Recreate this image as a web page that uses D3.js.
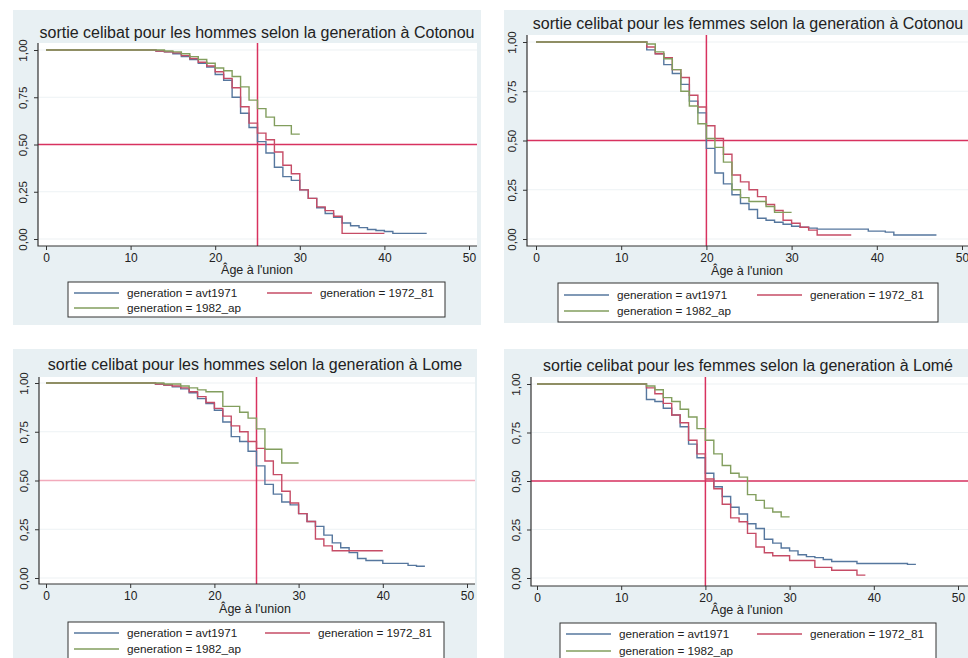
<!DOCTYPE html>
<html>
<head>
<meta charset="utf-8">
<script src="https://cdn.jsdelivr.net/npm/d3@7"></script>
<style>
  body { margin: 0; background: #fff; }
  svg { display: block; }
  text { font-family: Arial, "Liberation Sans", sans-serif; fill: #222; }
</style>
</head>
<body>
<script>
// survival curves: [age, proportion still single after that age]
const cotonouHommesAvt1971 = [[0,1],[13,0.995],[14,0.99],[15,0.98],[16,0.965],[17,0.95],[18,0.93],[19,0.91],[20,0.87],[21,0.84],[22,0.75],[23,0.665],[24,0.59],[25,0.515],[26,0.455],[27,0.38],[28,0.33],[29,0.31],[30,0.26],[31,0.215],[32,0.165],[33,0.135],[34,0.115],[35,0.085],[36,0.07],[37,0.06],[38,0.05],[39,0.045],[40,0.04],[41,0.03],[45,0.03]]
const cotonouHommes1972 = [[0,1],[13,0.995],[14,0.99],[15,0.985],[16,0.97],[17,0.955],[18,0.935],[19,0.915],[20,0.885],[21,0.85],[22,0.8],[23,0.7],[24,0.613],[25,0.56],[26,0.525],[27,0.46],[28,0.39],[29,0.345],[30,0.26],[31,0.215],[32,0.17],[33,0.15],[34,0.12],[35,0.03],[40,0.03]]
const cotonouHommes1982 = [[0,1],[14,0.995],[15,0.99],[16,0.98],[17,0.965],[18,0.95],[19,0.93],[20,0.905],[21,0.89],[22,0.86],[23,0.805],[24,0.735],[25,0.69],[26,0.645],[27,0.6],[29,0.555],[30,0.555]]

const cotonouFemmesAvt1971 = [[0,1],[13,0.96],[14,0.94],[15,0.885],[16,0.84],[17,0.785],[18,0.7],[19,0.64],[20,0.46],[21,0.335],[22,0.28],[23,0.225],[24,0.18],[25,0.15],[26,0.105],[27,0.095],[28,0.085],[29,0.075],[30,0.065],[31,0.06],[32,0.055],[33,0.05],[39,0.04],[41,0.035],[42,0.02],[47,0.02]]
const cotonouFemmes1972 = [[0,1],[13,0.975],[14,0.94],[15,0.92],[16,0.86],[17,0.82],[18,0.73],[19,0.67],[20,0.575],[21,0.51],[22,0.43],[23,0.325],[24,0.29],[25,0.25],[26,0.215],[27,0.175],[28,0.145],[29,0.095],[30,0.08],[31,0.06],[32,0.045],[33,0.02],[37,0.02]]
const cotonouFemmes1982 = [[0,1],[13,0.99],[14,0.95],[15,0.915],[16,0.86],[17,0.75],[18,0.675],[19,0.585],[20,0.51],[21,0.465],[22,0.39],[23,0.25],[24,0.21],[25,0.19],[27,0.165],[28,0.135],[30,0.135]]

const lomeHommesAvt1971 = [[0,1],[13,0.995],[14,0.99],[15,0.98],[16,0.97],[17,0.95],[18,0.92],[19,0.895],[20,0.86],[21,0.8],[22,0.725],[23,0.7],[24,0.65],[25,0.575],[26,0.48],[27,0.43],[28,0.39],[29,0.375],[30,0.33],[31,0.29],[32,0.265],[33,0.22],[34,0.18],[35,0.155],[36,0.13],[37,0.1],[38,0.09],[40,0.075],[43,0.065],[44,0.06],[45,0.06]]
const lomeHommes1972 = [[0,1],[13,0.995],[14,0.99],[15,0.985],[16,0.975],[17,0.955],[18,0.93],[19,0.9],[20,0.87],[21,0.83],[22,0.78],[23,0.75],[24,0.7],[25,0.665],[26,0.6],[27,0.53],[28,0.445],[29,0.385],[30,0.33],[31,0.29],[32,0.2],[33,0.165],[34,0.14],[40,0.14]]
const lomeHommes1982 = [[0,1],[14,0.995],[16,0.985],[17,0.975],[18,0.965],[19,0.955],[21,0.88],[23,0.85],[24,0.82],[25,0.765],[26,0.66],[28,0.59],[30,0.59]]

const lomeFemmesAvt1971 = [[0,1],[13,0.92],[14,0.91],[15,0.875],[16,0.84],[17,0.78],[18,0.69],[19,0.62],[20,0.54],[21,0.47],[22,0.42],[23,0.365],[24,0.33],[25,0.28],[26,0.255],[27,0.2],[28,0.18],[29,0.155],[30,0.14],[31,0.12],[32,0.11],[33,0.105],[34,0.095],[35,0.085],[38,0.075],[44,0.07],[45,0.07]]
const lomeFemmes1972 = [[0,1],[13,0.98],[14,0.95],[15,0.9],[16,0.84],[17,0.8],[18,0.71],[19,0.64],[20,0.51],[21,0.46],[22,0.38],[23,0.31],[24,0.29],[25,0.23],[26,0.16],[27,0.13],[28,0.115],[30,0.09],[33,0.055],[35,0.04],[38,0.015],[39,0.015]]
const lomeFemmes1982 = [[0,1],[13,0.99],[14,0.97],[15,0.93],[16,0.91],[17,0.87],[18,0.83],[19,0.77],[20,0.71],[21,0.64],[22,0.58],[23,0.54],[24,0.52],[25,0.43],[26,0.4],[27,0.36],[28,0.34],[29,0.315],[30,0.315]]

const titles = [
  'sortie celibat pour les hommes selon la generation à Cotonou',
  'sortie celibat pour les femmes selon la generation à Cotonou',
  'sortie celibat pour les hommes selon la generation à Lome',
  'sortie celibat pour les femmes selon la generation à Lomé'
]
const legendLabels = ['generation = avt1971', 'generation = 1972_81', 'generation = 1982_ap']
const xTicks = [0, 10, 20, 30, 40, 50]
const yTicks = [0, 0.25, 0.5, 0.75, 1]
const xTitle = 'Âge à l\'union'
const medianLines = [25, 20, 25, 20]

const seriesColors = ['#56779e', '#c64c66', '#829e5e']
const refColor = '#d8325f'

// layout of each of the 4 stata graphs pasted in the page
const panels = [
  { data: [cotonouHommesAvt1971, cotonouHommes1972, cotonouHommes1982],
    bg: [13, 10, 481, 325], plot: [38, 43, 477, 246], xr: [46, 469], yr: [239, 50],
    titleY: 32, titleX: 257, axisTitle: [257, 270], hEnd: 477, hColor: refColor,
    legend: { box: [68, 282, 445, 317], rows: [293, 308], cols: [74, 267] } },
  { data: [cotonouFemmesAvt1971, cotonouFemmes1972, cotonouFemmes1982],
    bg: [504, 10, 968, 323], plot: [527, 35, 968, 246], xr: [536, 962], yr: [239, 42],
    titleY: 23, titleX: 748, axisTitle: [747, 271], hEnd: 968, hColor: refColor,
    legend: { box: [558, 283, 938, 322], rows: [295, 311], cols: [564, 757] } },
  { data: [lomeHommesAvt1971, lomeHommes1972, lomeHommes1982],
    bg: [13, 349, 477, 658], plot: [39, 377, 475, 584], xr: [46, 467], yr: [578, 383],
    titleY: 364, titleX: 255, axisTitle: [255, 609], hEnd: 475, hColor: '#f2aabb',
    legend: { box: [68, 622, 444, 665], rows: [633, 649], cols: [74, 265] } },
  { data: [lomeFemmesAvt1971, lomeFemmes1972, lomeFemmes1982],
    bg: [504, 349, 968, 658], plot: [531, 377, 968, 586], xr: [537, 958], yr: [578, 384],
    titleY: 365, titleX: 748, axisTitle: [747, 610], hEnd: 968, hColor: refColor,
    legend: { box: [560, 623, 936, 665], rows: [634, 651], cols: [566, 757] } }
]

const svg = d3.select('body').append('svg')
  .attr('width', 968)
  .attr('height', 658)

const fmtY = d => d3.format('.2f')(d).replace('.', ',')

panels.forEach((p, i) => {
  let g = svg.append('g')
  let [bx0, by0, bx1, by1] = p.bg
  let [px0, py0, px1, py1] = p.plot

  g.append('rect')
    .attr('x', bx0).attr('y', by0)
    .attr('width', bx1 - bx0).attr('height', by1 - by0)
    .attr('fill', '#e8f0f3')

  g.append('rect')
    .attr('x', px0).attr('y', py0)
    .attr('width', px1 - px0).attr('height', py1 - py0)
    .attr('fill', '#fff')

  let x = d3.scaleLinear().domain([0, 50]).range(p.xr)
  let y = d3.scaleLinear().domain([0, 1]).range(p.yr)

  // grid
  g.append('g').selectAll('line').data(yTicks).join('line')
    .attr('x1', px0).attr('x2', px1)
    .attr('y1', d => y(d)).attr('y2', d => y(d))
    .attr('stroke', '#edf2f4')
    .attr('stroke-width', 1.2)

  // reference lines (median)
  g.append('line')
    .attr('x1', px0).attr('x2', p.hEnd)
    .attr('y1', y(0.5)).attr('y2', y(0.5))
    .attr('stroke', p.hColor)
    .attr('stroke-width', 1.5)

  g.append('line')
    .attr('x1', x(medianLines[i])).attr('x2', x(medianLines[i]))
    .attr('y1', py0).attr('y2', py1)
    .attr('stroke', refColor)
    .attr('stroke-width', 1.5)

  let line = d3.line()
    .x(d => x(d[0]))
    .y(d => y(d[1]))
    .curve(d3.curveStepAfter)

  g.append('g').selectAll('path').data(p.data).join('path')
    .attr('d', line)
    .attr('fill', 'none')
    .attr('stroke', (d, k) => seriesColors[k])
    .attr('stroke-width', 1.4)

  // axes
  let xAxis = g.append('g')
    .attr('transform', `translate(0,${py1})`)
    .call(d3.axisBottom(x).tickValues(xTicks).tickSize(4).tickPadding(3).tickSizeOuter(0))
  xAxis.select('.domain').remove()
  xAxis.selectAll('line').attr('stroke', '#333')
  xAxis.selectAll('text').attr('font-size', 12).attr('fill', '#333')

  let yAxis = g.append('g')
    .attr('transform', `translate(${px0},0)`)
    .call(d3.axisLeft(y).tickValues(yTicks).tickFormat(fmtY).tickSize(4).tickSizeOuter(0))
  yAxis.select('.domain').remove()
  yAxis.selectAll('line').attr('stroke', '#333')
  yAxis.selectAll('text')
    .attr('transform', 'rotate(-90)')
    .attr('x', 0)
    .attr('y', -15)
    .attr('dy', '0.35em')
    .attr('text-anchor', 'middle')
    .attr('font-size', 11.5)
    .attr('fill', '#333')

  g.append('path')
    .attr('d', `M${px0},${py0}V${py1}H${px1}`)
    .attr('fill', 'none')
    .attr('stroke', '#333')
    .attr('stroke-width', 1.2)

  g.append('text')
    .attr('x', p.axisTitle[0]).attr('y', p.axisTitle[1])
    .attr('text-anchor', 'middle')
    .attr('dy', '0.35em')
    .attr('font-size', 12.5)
    .text(xTitle)

  g.append('text')
    .attr('x', p.titleX).attr('y', p.titleY)
    .attr('text-anchor', 'middle')
    .attr('dy', '0.35em')
    .attr('font-size', 16)
    .attr('fill', '#1e2a36')
    .text(titles[i])

  // legend
  let L = p.legend
  g.append('rect')
    .attr('x', L.box[0]).attr('y', L.box[1])
    .attr('width', L.box[2] - L.box[0]).attr('height', L.box[3] - L.box[1])
    .attr('fill', '#fff')
    .attr('stroke', '#333')
    .attr('stroke-width', 1)

  let items = legendLabels.map((label, k) => ({
    label, color: seriesColors[k],
    lx: L.cols[k === 1 ? 1 : 0],
    ly: L.rows[k === 2 ? 1 : 0]
  }))

  let item = g.append('g').selectAll('g').data(items).join('g')
    .attr('transform', d => `translate(${d.lx},${d.ly})`)
  item.append('line')
    .attr('x1', 0).attr('x2', 45)
    .attr('stroke', d => d.color)
    .attr('stroke-width', 1.4)
  item.append('text')
    .attr('x', 53)
    .attr('dy', '0.35em')
    .attr('font-size', 11.7)
    .attr('fill', '#333')
    .text(d => d.label)
})
</script>
</body>
</html>
